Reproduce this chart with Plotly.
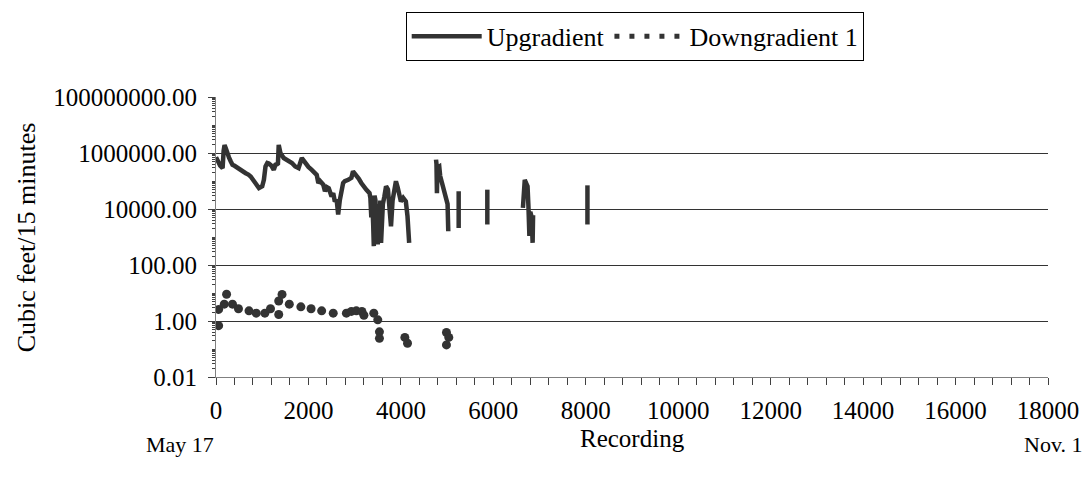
import plotly.graph_objects as go

# Upgradient series (None = gap in the record)
up_x = [0, 30, 60, 90, 120, 143, 165, 185, 210, 240,
        280, 320, 357, 400, 465, 550, 643, 700, 750, 820,
        893, 929, 1000, 1036, 1071, 1110, 1143, 1200, 1250, 1286,
        1321, 1340, 1357, 1393, 1464, 1550, 1643, 1714, 1786, 1857,
        1929, 2000, 2071, 2179, 2214, 2250, 2321, 2357, 2400, 2440,
        2500, 2536, 2571, 2610, 2643, 2679, 2750, 2786, 2860, 2929,
        2964, 3036, 3090, 3143, 3200, 3250, 3321, 3340, 3360, 3380,
        3400, 3414, 3430, 3450, 3470, 3485, 3500, 3520, 3540, 3555,
        3571, 3590, 3610, 3643, 3679, 3720, 3750, 3786, 3820, 3857,
        3893, 3930, 3964, 4000, 4050, 4107, 4143, 4179,
        None,
        4760, 4770, 4780, 4790, 4830, 4850, 4890, 4950, 5010, 5025,
        None,
        5250, 5250,
        None,
        5870, 5870,
        None,
        6640, 6650, 6680, 6700, 6740, 6760, 6780, 6800, 6830, 6850, 6860,
        None,
        8036, 8036]
up_y = [7e5, 6e5, 4.5e5, 3.5e5, 3e5, 2.9e5, 1.2e6, 1.9e6, 1.5e6, 1.0e6,
        7e5, 5e5, 3.8e5, 3.5e5, 2.9e5, 2.4e5, 1.9e5, 1.7e5, 1.45e5, 1.0e5,
        6.5e4, 5.6e4, 6.5e4, 1.1e5, 3.3e5, 4.4e5, 4.2e5, 3.5e5, 2.5e5, 3.8e5,
        4.0e5, 4.2e5, 1.95e6, 1.0e6, 6.6e5, 5.5e5, 4.4e5, 3.3e5, 2.9e5, 6.6e5,
        4.4e5, 3.2e5, 2.5e5, 1.65e5, 8.5e4, 1.0e5, 7.4e4, 4.3e4, 6e4, 5.5e4,
        2.8e4, 3.7e4, 1.86e4, 2.2e4, 6.3e3, 2.1e4, 8.5e4, 9.8e4, 1.1e5, 1.3e5,
        2.2e5, 1.65e5, 1.2e5, 8.5e4, 6e4, 4.9e4, 3.7e4, 2.5e4, 5e3, 2e4,
        3e3, 470, 3e4, 2e4, 2e3, 1.5e4, 540, 1.5e4, 3e3, 2e4,
        620, 1.2e4, 1.5e4, 2.8e4, 6.5e4, 5e4, 1.5e4, 2.4e3, 2e4, 6.5e4,
        9.8e4, 6e4, 3.7e4, 1.86e4, 2.5e4, 1.86e4, 5.5e3, 620,
        None,
        5.8e5, 4e5, 3.7e4, 3e5, 3.3e5, 1.5e5, 8.5e4, 3.2e4, 1.5e4, 1.6e3,
        None,
        4.3e4, 2.1e3,
        None,
        4.9e4, 2.8e3,
        None,
        1.1e4, 4e4, 1.1e5, 9e4, 6.5e4, 1.2e4, 1.1e3, 8e3, 5e3, 620, 6e3,
        None,
        7e4, 2.8e3]

# Downgradient 1 series
down_x = [57, 57, 179, 229, 357, 486, 714, 871, 1057, 1179,
          1357, 1357, 1429, 1586, 1836, 2057, 2286, 2536, 2821, 2929,
          3036, 3157, 3200, 3414, 3500, 3536, 3536, 4086, 4143, 4986,
          5036, 4986]
down_y = [2.6, 0.68, 4.0, 9.0, 4.0, 2.75, 2.3, 1.9, 1.9, 2.75,
          1.7, 5.2, 8.9, 4.0, 3.2, 2.75, 2.3, 1.9, 1.9, 2.2,
          2.3, 2.2, 1.6, 1.9, 1.1, 0.41, 0.24, 0.26, 0.16, 0.39,
          0.26, 0.14]

series_names = ["Upgradient", "Downgradient 1"]
y_title = "Cubic feet/15 minutes"
x_title = "Recording"
start_label = "May 17"
end_label = "Nov. 1"

FONT = "Liberation Serif"
INK = "#333333"

fig = go.Figure()
fig.add_trace(go.Scatter(x=up_x, y=up_y, mode="lines", name=series_names[0],
                         line=dict(color=INK, width=4.5), connectgaps=False))
fig.add_trace(go.Scatter(x=down_x, y=down_y, mode="markers", name=series_names[1],
                         marker=dict(color=INK, size=9), showlegend=False))
# legend swatch imitating a row of dots
fig.add_trace(go.Scatter(x=[None], y=[None], mode="lines", name=series_names[1],
                         line=dict(color=INK, width=5, dash="5px,10px")))

fig.update_layout(
    width=1091, height=485,
    margin=dict(l=216, r=39, t=97, b=108),
    paper_bgcolor="white", plot_bgcolor="white",
    font=dict(family=FONT, size=25, color="black"),
    showlegend=True,
    legend=dict(orientation="h", x=0.228, xanchor="left", y=1.304, yanchor="top",
                bordercolor="black", borderwidth=1, bgcolor="white",
                font=dict(family=FONT, size=26, color="black"),
                itemwidth=70, tracegroupgap=0),
    xaxis=dict(range=[0, 18000], dtick=2000, tick0=0, tickformat="d", showgrid=False,
               showline=True, linecolor="#808080", linewidth=1,
               ticks="outside", ticklen=7, tickcolor="#404040",
               ticklabelstandoff=4, zeroline=False,
               tickfont=dict(family=FONT, size=25),
               minor=dict(dtick=400, ticks="outside", ticklen=7, tickcolor="#404040")),
    yaxis=dict(type="log", range=[-2, 8], dtick=2, tickformat=".2f",
               showgrid=True, gridcolor="#333333", gridwidth=1,
               showline=True, linecolor="#808080", linewidth=1,
               ticks="outside", ticklen=7, tickcolor="#404040",
               ticklabelstandoff=6, zeroline=False,
               tickfont=dict(family=FONT, size=25),
               minor=dict(dtick="D1", ticks="outside", ticklen=3, tickcolor="#404040",
                          showgrid=False)),
    annotations=[
        dict(text=y_title, xref="paper", yref="paper", x=-0.228, y=0.5,
             textangle=-90, showarrow=False, xanchor="center", yanchor="middle",
             font=dict(family=FONT, size=26)),
        dict(text=x_title, xref="paper", yref="paper", x=0.5, y=-0.218,
             showarrow=False, xanchor="center", yanchor="middle",
             font=dict(family=FONT, size=25)),
        dict(text=start_label, xref="paper", yref="paper", x=-0.043, y=-0.24,
             showarrow=False, xanchor="center", yanchor="middle",
             font=dict(family=FONT, size=22)),
        dict(text=end_label, xref="paper", yref="paper", x=1.006, y=-0.24,
             showarrow=False, xanchor="center", yanchor="middle",
             font=dict(family=FONT, size=22)),
    ],
)

fig.write_html("out.html")
